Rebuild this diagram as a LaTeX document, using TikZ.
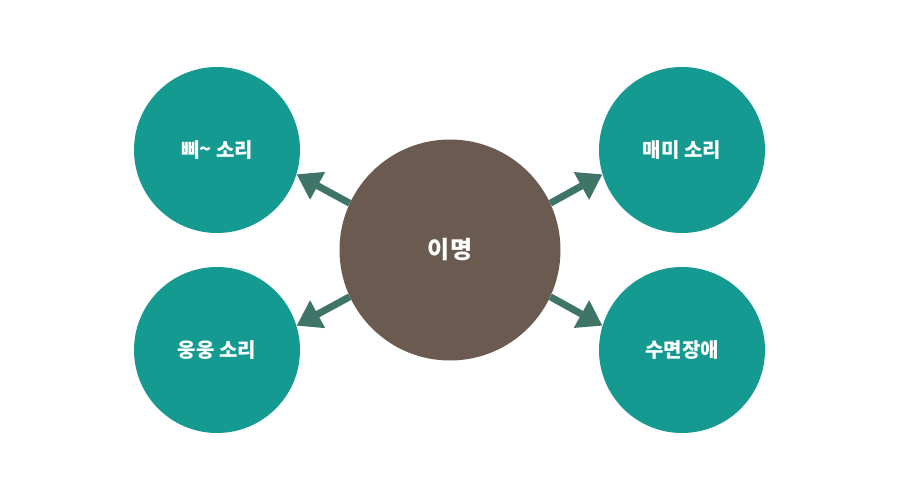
\documentclass[tikz,border=0pt]{standalone}
\usepackage{fontspec}
\newfontfamily\kr{Noto Sans CJK KR}
\usetikzlibrary{arrows.meta}
\definecolor{tealc}{HTML}{149A90}
\definecolor{brownc}{HTML}{6A5A50}
\definecolor{arrowc}{HTML}{3F7468}
\tikzset{
  outer/.style={circle, fill=tealc, minimum size=166pt, inner sep=0pt, text=white, font=\kr\bfseries\fontsize{20pt}{23pt}\selectfont},
  center/.style={circle, fill=brownc, minimum size=221pt, inner sep=0pt, text=white, font=\kr\bfseries\fontsize{24pt}{28pt}\selectfont},
  link/.style={draw=arrowc, line width=7pt, -{Triangle[length=24pt, width=30pt]}}
}
\begin{document}
\begin{tikzpicture}[x=1pt, y=-1pt]
\useasboundingbox (0,0) rectangle (900,500);
\node[center] (c) at (450,250) {이명};
\node[outer] (ul) at (217,150) {삐\raisebox{1pt}{\textasciitilde} 소리};
\node[outer] (ll) at (217,350) {웅웅 소리};
\node[outer] (ur) at (682,150) {매미 소리};
\node[outer] (lr) at (682,350) {수면장애};
\draw[link] (c.155) -- (ul.-17);
\draw[link] (c.205) -- (ll.17);
\draw[link] (c.25) -- (ur.197);
\draw[link] (c.-25) -- (lr.163);
\end{tikzpicture}
\end{document}
